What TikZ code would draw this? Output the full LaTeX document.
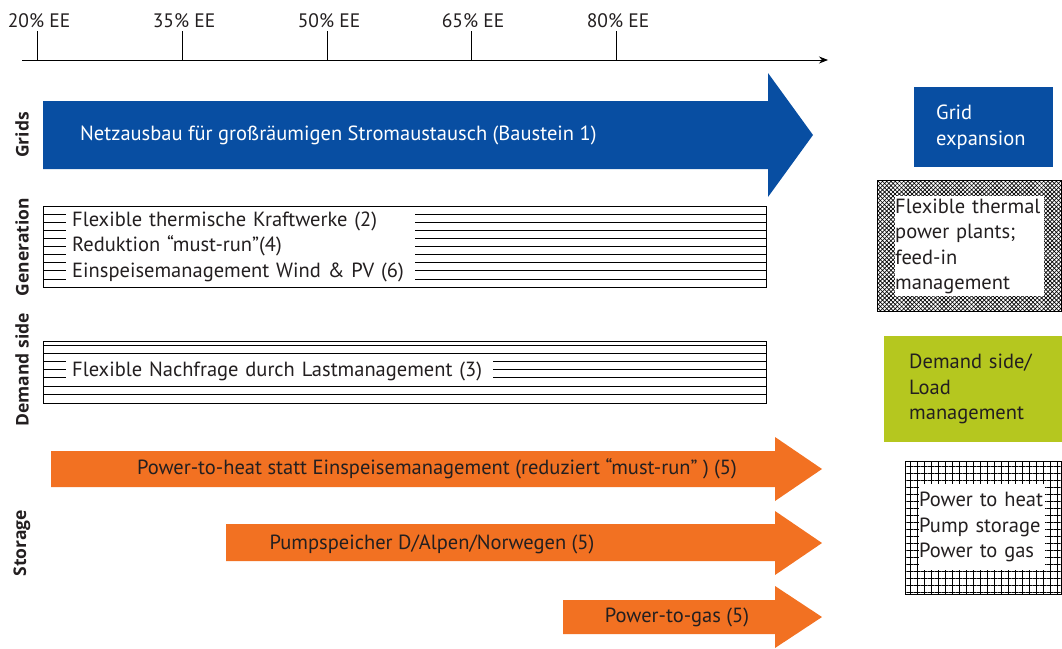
\documentclass[tikz,border=0pt]{standalone}
\usepackage{fontspec}
\setmainfont{PT Sans}
\newfontfamily\sidefont{Open Sans}
\usetikzlibrary{arrows.meta,patterns.meta}
\definecolor{gridblue}{RGB}{8,78,162}
\definecolor{storeorange}{RGB}{242,113,34}
\definecolor{demandgreen}{RGB}{181,199,31}
\definecolor{inktext}{RGB}{35,31,32}
\hyphenpenalty=10000
\exhyphenpenalty=10000
\tikzset{
  % --- share of renewables axis ------------------------------------------
  axisline/.style={line width=0.8pt,-{Stealth[length=9pt,width=7pt]}},
  tickline/.style={line width=0.6pt},
  ticklab/.style={font=\fontsize{19.5}{21}\selectfont,inner sep=0pt,text=inktext},
  % --- row labels on the left --------------------------------------------
  rowlab/.style={rotate=90,font=\sidefont\bfseries\fontsize{17.5}{19}\selectfont,
                 inner sep=0pt,text=inktext},
  % --- measures (arrows and hatched bars) --------------------------------
  measure/.style={font=\fontsize{20.5}{25.5}\selectfont,inner sep=0pt,text=inktext},
  hatchbox/.style={line width=1pt},
  hatch/.style={line width=0.8pt},
  textmask/.style={fill=white,inner ysep=0pt,inner xsep=6pt,align=left,anchor=west},
  % --- key boxes on the right --------------------------------------------
  keybox/.style={font=\fontsize{20.5}{25.5}\selectfont,align=left,anchor=north west,
                 inner ysep=0pt,text=inktext},
  keyframe/.style={line width=0.6pt},
}

\begin{document}
\begin{tikzpicture}[x=1pt, y=-1pt]
  \useasboundingbox (0,0) rectangle (1062,648);

  % --- axis with ticks -----------------------------------------------------
  \draw[axisline] (22,60) -- (828,60);
  \foreach \x/\p in {37/20,182/35,327/50,471/65,616/80}{
    \draw[tickline] (\x,31) -- (\x,60);
    \node[ticklab,anchor=base] (tick\p) at (\x+2,27) {\p\% EE};
  }

  % --- row labels ----------------------------------------------------------
  \node[rowlab] (lgrids) at (22,135) {Grids};
  \node[rowlab] (lgen)   at (22,247) {Generation};
  \node[rowlab] (ldem)   at (22,370) {Demand side};
  \node[rowlab] (lstore) at (22,543) {Storage};

  % --- grids: one big arrow ------------------------------------------------
  \fill[gridblue] (43,101) -- (768,101) -- (768,73) -- (813,135)
                  -- (768,197) -- (768,169) -- (43,169) -- cycle;
  \node[measure,text=white,anchor=west] (grids) at (80,135)
    {Netzausbau für großräumigen Stromaustausch (Baustein 1)};

  % --- generation: hatched bar ---------------------------------------------
  \foreach \k in {1,...,9}
    \draw[hatch] (43,{206+8.1*\k}) -- (766,{206+8.1*\k});
  \draw[hatchbox] (43,206) rectangle (766,287);
  \node[measure,textmask,text width=337,minimum height=79] (gen) at (66,246.5)
    {Flexible thermische Kraftwerke (2)\\Reduktion “must-run”(4)\\Einspeisemanagement Wind \& PV (6)};

  % --- demand side: hatched bar --------------------------------------------
  \foreach \k in {0,...,6}
    \draw[hatch] (43,{345+8.2*\k}) -- (766,{345+8.2*\k});
  \draw[hatchbox] (43,341) rectangle (766,403);
  \node[measure,textmask,text width=415,minimum height=26] (dem) at (66,371)
    {Flexible Nachfrage durch Lastmanagement (3)};

  % --- storage: three arrows -----------------------------------------------
  \fill[storeorange] (51,451) -- (775,451) -- (775,437) -- (822,469)
                     -- (775,501) -- (775,487) -- (51,487) -- cycle;
  \fill[storeorange] (226,524) -- (775,524) -- (775,511) -- (822,543)
                     -- (775,575) -- (775,561) -- (226,561) -- cycle;
  \fill[storeorange] (563,600) -- (775,600) -- (775,586) -- (822,617)
                     -- (775,648) -- (775,634) -- (563,634) -- cycle;
  \node[measure] (p2h)  at (437,469)
    {Power-to-heat statt Einspeisemanagement (reduziert “must-run” ) (5)};
  \node[measure] (pump) at (432,544) {Pumpspeicher D/Alpen/Norwegen (5)};
  \node[measure] (p2g)  at (677,617) {Power-to-gas (5)};

  % --- key ------------------------------------------------------------------
  \node[keybox,fill=gridblue,text=white,minimum width=139,minimum height=80,
        text width=95,inner xsep=22] (gridkey) at (914,87) {Grid\\expansion};

  \path[pattern={Lines[angle=45,distance=3pt,line width=0.7pt]}]
    (877,180) rectangle (1061,311);
  \path[pattern={Lines[angle=-45,distance=3pt,line width=0.7pt]}]
    (877,180) rectangle (1061,311);
  \draw[keyframe] (877,180) rectangle (1061,311);
  \node[keybox,fill=white,minimum width=149,minimum height=100,text width=149,
        inner xsep=0] (genkey) at (895,196)
    {Flexible thermal\\power plants;\\feed-in\\management};

  \node[keybox,fill=demandgreen,minimum width=178,minimum height=106,
        text width=128,inner xsep=25] (demkey) at (884,336)
    {Demand side/\\Load\\management};

  \path[pattern={Lines[angle=0,distance=7pt,line width=0.6pt]}]
    (905,461) rectangle (1061,594);
  \path[pattern={Lines[angle=90,distance=7pt,line width=0.6pt]}]
    (905,461) rectangle (1061,594);
  \draw[keyframe] (905,461) rectangle (1061,594);
  \node[keybox,fill=white,minimum width=126,minimum height=86,text width=126,
        inner xsep=0] (storekey) at (919,484)
    {Power to heat\\Pump storage\\Power to gas};
\end{tikzpicture}
\end{document}
